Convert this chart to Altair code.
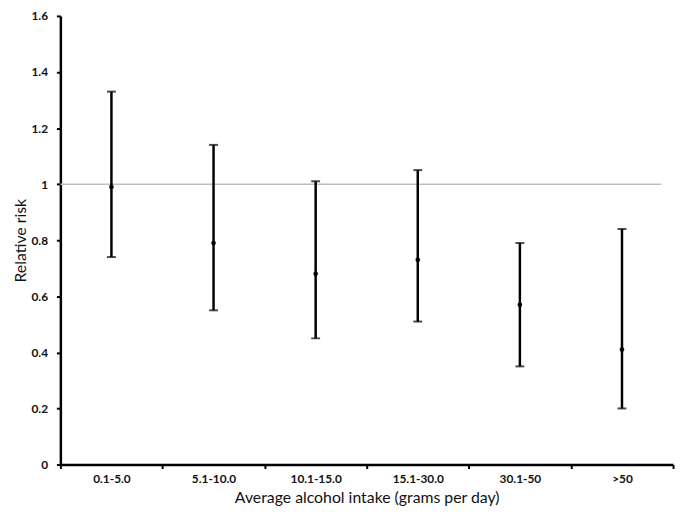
import altair as alt
import pandas as pd

categories = ["0.1-5.0", "5.1-10.0", "10.1-15.0", "15.1-30.0", "30.1-50", ">50"]
rr = [0.99, 0.79, 0.68, 0.73, 0.57, 0.41]
lower = [0.74, 0.55, 0.45, 0.51, 0.35, 0.20]
upper = [1.33, 1.14, 1.01, 1.05, 0.79, 0.84]
y_ticks = [0, 0.2, 0.4, 0.6, 0.8, 1.0, 1.2, 1.4, 1.6]

df = pd.DataFrame({"cat": categories, "rr": rr, "lo": lower, "hi": upper})

FONT = "Lato"

x_enc = alt.X(
    "cat:N",
    sort=categories,
    scale=alt.Scale(paddingInner=0, paddingOuter=0),
    axis=alt.Axis(
        title="Average alcohol intake (grams per day)",
        labelAngle=0,
        tickBand="extent",
        labelFont=FONT, labelFontSize=12, labelFontWeight="bold", labelColor="#111",
        labelPadding=5,
        titleFont=FONT, titleFontSize=16, titleFontWeight="normal", titleColor="#111",
        titlePadding=5,
        domainColor="black", domainWidth=2.5,
        tickColor="black", tickWidth=2, tickSize=4,
    ),
)

y_scale = alt.Scale(domain=[0, 1.6], nice=False)
y_axis = alt.Axis(
    title="Relative risk",
    values=y_ticks,
    grid=False,
    labelFont=FONT, labelFontSize=12, labelFontWeight="bold", labelColor="#111",
    labelPadding=9,
    labelExpr="datum.value == 0 ? '0' : format(datum.value, '.1~f')",
    titleFont=FONT, titleFontSize=16, titleFontWeight="normal", titleColor="#111",
    titlePadding=3,
    domainColor="black", domainWidth=2.5,
    tickColor="black", tickWidth=2, tickSize=4,
)

base = alt.Chart(df)

ref = alt.Chart(pd.DataFrame({"v": [1.0]})).mark_rule(color="#bfbfbf", strokeWidth=1.5).encode(
    y=alt.Y("v:Q", scale=y_scale, axis=y_axis),
    x=alt.value(0),
    x2=alt.value(608),
)

bars = base.mark_rule(color="black", strokeWidth=2.5).encode(
    x=x_enc,
    y=alt.Y("lo:Q", scale=y_scale, axis=y_axis),
    y2="hi:Q",
)

cap_lo = base.mark_tick(color="black", thickness=2, size=9, orient="horizontal").encode(
    x=x_enc, y=alt.Y("lo:Q", scale=y_scale, axis=y_axis)
)
cap_hi = base.mark_tick(color="black", thickness=2, size=9, orient="horizontal").encode(
    x=x_enc, y=alt.Y("hi:Q", scale=y_scale, axis=y_axis)
)

pts = base.mark_point(filled=True, color="black", size=22, opacity=1).encode(
    x=x_enc, y=alt.Y("rr:Q", scale=y_scale, axis=y_axis)
)

chart = alt.layer(ref, bars, cap_lo, cap_hi, pts).properties(
    width=620, height=454,
    autosize=alt.AutoSizeParams(type="none"),
    padding={"left": 53, "top": 5, "right": 4, "bottom": 43},
    background="white",
).configure_view(stroke=None)

chart.save("out.html", embed_options={"renderer": "svg", "actions": False})
